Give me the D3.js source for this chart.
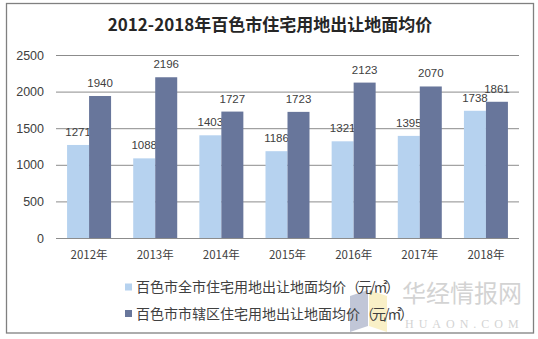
<!DOCTYPE html>
<html><head><meta charset="utf-8">
<script src="https://cdn.jsdelivr.net/npm/d3@7"></script>
<style>body{margin:0;background:#fff;}svg{display:block;}</style>
</head><body>
<script>
const categories = ["2012年","2013年","2014年","2015年","2016年","2017年","2018年"];
const seriesNames = ["百色市全市住宅用地出让地面均价","百色市市辖区住宅用地出让地面均价"];
const unitLabel = "（元/㎡）";
const cityValues = [1271,1088,1403,1186,1321,1395,1738];
const districtValues = [1940,2196,1727,1723,2123,2070,1861];
const yTicks = [0,500,1000,1500,2000,2500];
const colors = ["#B6D2EF","#68769B"];

const W=538,H=339;
const svg=d3.select("body").append("svg").attr("width",W).attr("height",H);
svg.append("rect").attr("x",6.5).attr("y",3.5).attr("width",527).attr("height",329.5)
  .attr("fill","#fff").attr("stroke","#808080").attr("stroke-width",1.3);

const cjk="'Noto Sans CJK SC','Liberation Sans',sans-serif";
const num="'Liberation Sans','DejaVu Sans',sans-serif";

svg.append("text").attr("x",270).attr("y",31).attr("text-anchor","middle")
  .attr("font-family",cjk).attr("font-weight","bold").attr("font-size",17).attr("fill","#262626")
  .text("2012-2018年百色市住宅用地出让地面均价");

const x=d3.scaleBand().domain(categories).range([56,519]).paddingInner(0).paddingOuter(0);
const y=d3.scaleLinear().domain([0,2500]).range([238,55]);
const bw=22;

const yAxis=d3.axisLeft(y).tickValues(yTicks).tickFormat(d3.format("d")).tickSize(-(519-56)).tickPadding(12);
const gy=svg.append("g").attr("transform","translate(56,0)").call(yAxis);
gy.select(".domain").remove();
gy.selectAll(".tick line").attr("stroke","#8c8c8c").attr("stroke-width",1).attr("x1",0);
gy.selectAll(".tick text").attr("font-family",num).attr("font-size",12.5).attr("fill","#404040");

const xAxis=d3.axisBottom(x).tickSize(0).tickPadding(13);
const gx=svg.append("g").attr("transform","translate(0,238)").call(xAxis);
gx.select(".domain").remove();
gx.selectAll(".tick text").attr("font-family",cjk).attr("font-size",11.5).attr("fill","#404040");

const series=[cityValues,districtValues];
series.forEach((vals,si)=>{
  const g=svg.append("g");
  g.selectAll("rect").data(vals).enter().append("rect")
    .attr("x",(d,i)=>x(categories[i])+x.bandwidth()/2-bw+si*bw)
    .attr("y",d=>y(d)).attr("width",bw).attr("height",d=>y(0)-y(d)).attr("fill",colors[si]);
  g.selectAll("text").data(vals).enter().append("text")
    .attr("x",(d,i)=>x(categories[i])+x.bandwidth()/2-bw/2+si*bw)
    .attr("y",d=>y(d)-9).attr("text-anchor","middle")
    .attr("font-family",num).attr("font-size",11.5).attr("fill","#404040").text(d=>d);
});

// watermark (drawn first so legend sits above it)
const wm=svg.append("g").attr("opacity",0.55);
wm.append("polygon").attr("points","350,296 368,290 368,326 350,332").attr("fill","#8f98b8");
wm.append("polygon").attr("points","369,290 387,296 387,332 369,326").attr("fill","#f5e49a");
wm.append("text").attr("x",402).attr("y",302).attr("font-family",cjk).attr("font-size",24)
  .attr("fill","#b0b0b0").text("华经情报网");
wm.append("text").attr("x",405).attr("y",328).attr("font-family","'Liberation Serif',serif").attr("font-size",12)
  .attr("fill","#b0b0b0").attr("letter-spacing",5).text("HUAON.COM");

// legend
seriesNames.forEach((n,i)=>{
  const ly=287+i*26.5;
  svg.append("rect").attr("x",125).attr("y",ly-3.5).attr("width",7).attr("height",7).attr("fill",colors[i]);
  const t=svg.append("text").attr("x",136).attr("y",ly+5).attr("font-family",cjk).attr("font-size",14)
    .attr("fill","#404040");
  t.append("tspan").text(n);
  t.append("tspan").attr("letter-spacing",-2).text(unitLabel);
});
</script>
</body></html>
